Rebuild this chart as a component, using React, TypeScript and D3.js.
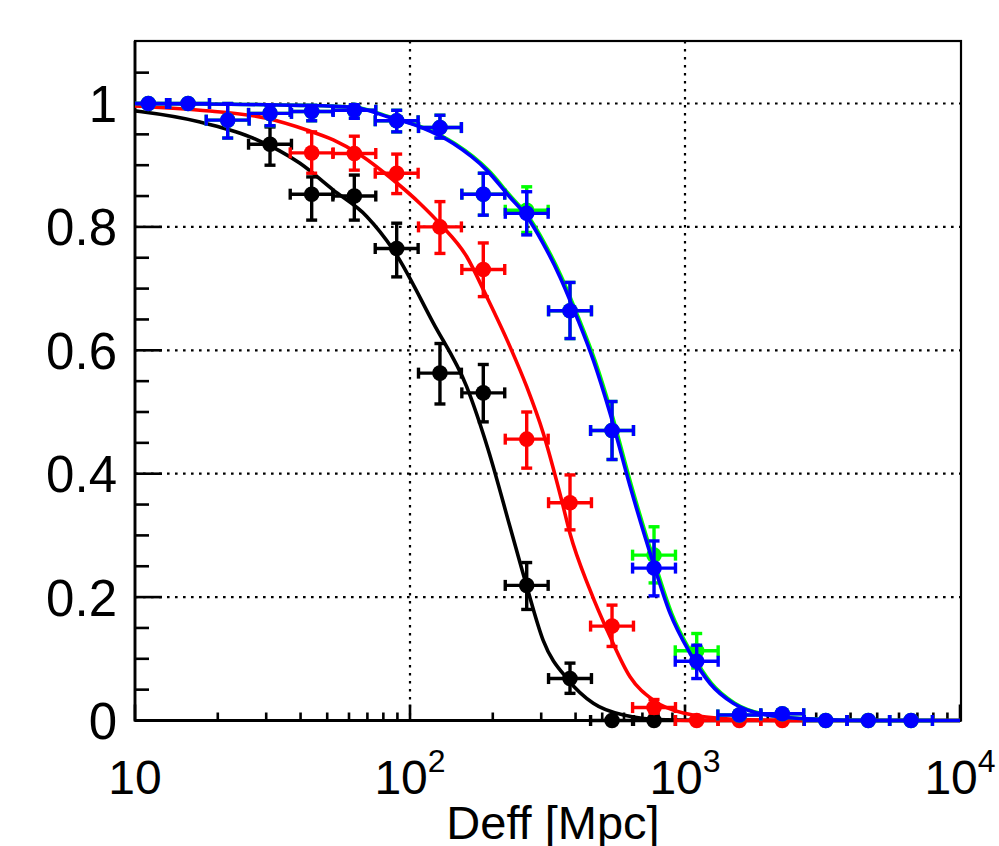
import React from "react";
import * as d3 from "d3";

// ---- data ----
const binCenters = [11.18, 15.59, 21.73, 30.97, 43.9, 62.74, 89.45, 128.5, 184.7, 265.7, 381.8, 542.8, 771.6, 1103, 1576, 2258, 3249, 4640, 6634];

const blackX = [30.97, 43.9, 62.74, 89.45, 128.5, 184.7, 265.7, 381.8, 542.8, 771.6];
const blackY = [0.934, 0.853, 0.85, 0.765, 0.563, 0.531, 0.219, 0.068, 0, 0];
const blackEHigh = [0.028, 0.028, 0.034, 0.041, 0.048, 0.046, 0.037, 0.025, 0, 0];
const blackELow = [0.034, 0.042, 0.039, 0.046, 0.05, 0.047, 0.039, 0.024, 0, 0];

const redX = [43.9, 62.74, 89.45, 128.5, 184.7, 265.7, 381.8, 542.8, 771.6, 1103, 1576, 2258];
const redY = [0.92, 0.919, 0.887, 0.8, 0.731, 0.456, 0.353, 0.153, 0.021, 0, 0, 0];
const redEHigh = [0.034, 0.028, 0.031, 0.041, 0.043, 0.044, 0.045, 0.034, 0.013, 0, 0, 0];
const redELow = [0.033, 0.027, 0.033, 0.043, 0.044, 0.047, 0.044, 0.033, 0.009, 0, 0, 0];

const greenY = [1.0, 1.0, 0.973, 0.984, 0.987, 0.989, 0.972, 0.961, 0.853, 0.827, 0.664, 0.47, 0.268, 0.113, 0.009, 0.011, 0, 0, 0];
const greenEHigh = [0, 0, 0.027, 0.013, 0.01, 0.009, 0.017, 0.02, 0.034, 0.038, 0.046, 0.047, 0.046, 0.028, 0.006, 0.006, 0, 0, 0];
const greenELow = [0, 0, 0.029, 0.02, 0.015, 0.013, 0.018, 0.017, 0.034, 0.036, 0.045, 0.047, 0.045, 0.028, 0.005, 0.005, 0, 0, 0];

const blueY = [1.0, 1.0, 0.973, 0.984, 0.987, 0.989, 0.972, 0.961, 0.853, 0.822, 0.664, 0.47, 0.247, 0.096, 0.009, 0.011, 0, 0, 0];
const blueEHigh = [0, 0, 0.027, 0.013, 0.01, 0.009, 0.017, 0.02, 0.034, 0.035, 0.046, 0.047, 0.044, 0.026, 0.006, 0.006, 0, 0, 0];
const blueELow = [0, 0, 0.029, 0.02, 0.015, 0.013, 0.018, 0.017, 0.034, 0.035, 0.045, 0.047, 0.045, 0.028, 0.005, 0.005, 0, 0, 0];

// fitted curves
const blackCurve: [number, number][] = [[10, 0.988], [10.43, 0.987], [17.24, 0.97], [26.19, 0.946], [39.81, 0.903], [52.5, 0.86], [69.6, 0.817], [86.9, 0.763], [121.6, 0.644], [160.7, 0.541], [192.7, 0.438], [231, 0.314], [264, 0.222], [305, 0.13], [376, 0.066], [464, 0.028], [597, 0.009], [858, 0.001], [1340, 0], [10000, 0]];
const redCurve: [number, number][] = [[10, 0.996], [17.24, 0.989], [30.1, 0.976], [42.1, 0.957], [52.6, 0.941], [65.8, 0.917], [86.9, 0.876], [108.7, 0.838], [128.5, 0.805], [160.7, 0.752], [190, 0.687], [231, 0.606], [265.7, 0.541], [305, 0.466], [356, 0.357], [381.8, 0.303], [451, 0.212], [533.8, 0.136], [631, 0.071], [766.7, 0.033], [985.8, 0.012], [1498, 0.002], [2618, 0], [10000, 0]];
const greenCurve: [number, number][] = [[10, 1.0], [40.3, 0.997], [63, 0.994], [83.4, 0.979], [110.1, 0.962], [145.6, 0.935], [192.5, 0.892], [234, 0.848], [269.2, 0.817], [309, 0.773], [355.6, 0.719], [409, 0.654], [470, 0.584], [540.8, 0.498], [639, 0.38], [776.7, 0.255], [893.5, 0.174], [1056.6, 0.109], [1249, 0.06], [1517, 0.028], [2008, 0.009], [3052, 0.002], [4767, 0], [10000, 0]];
const blueCurve: [number, number][] = [[10, 1.0], [39.8, 0.997], [62.2, 0.994], [82.3, 0.979], [108.7, 0.962], [143.7, 0.935], [190, 0.892], [231, 0.848], [265.7, 0.817], [305, 0.773], [351, 0.719], [404, 0.654], [464, 0.584], [533.8, 0.498], [631, 0.38], [766.7, 0.255], [882, 0.174], [1043, 0.109], [1233, 0.06], [1498, 0.028], [1982, 0.009], [3013, 0.002], [4706, 0], [10000, 0]];

const yMajorTicks = [0, 0.2, 0.4, 0.6, 0.8, 1.0];
const yTickLabels = ["0", "0.2", "0.4", "0.6", "0.8", "1"];
const yMinorTicks = [0.05, 0.1, 0.15, 0.25, 0.3, 0.35, 0.45, 0.5, 0.55, 0.65, 0.7, 0.75, 0.85, 0.9, 0.95, 1.05];
const xMajorTicks = [10, 100, 1000, 10000];
const xTickBase = ["10", "10", "10", "10"];
const xTickExp = ["", "2", "3", "4"];
const xGrid = [100, 1000];
const yGrid = [0.2, 0.4, 0.6, 0.8, 1.0];
const xTitle = "Deff [Mpc]";

// ---- layout ----
const W = 999, H = 846;
const L = 135, R = 960, T = 41, B = 720.5;
const binHalfDex = 0.078;
const FONT = "'Liberation Sans', Arial, Helvetica, sans-serif";

const x = d3.scaleLog().domain([10, 10000]).range([L, R]);
const y = d3.scaleLinear().domain([0, 1.1]).range([B, B - 1.1 * 617]);

const line = d3
  .line<[number, number]>()
  .x((d) => x(d[0]))
  .y((d) => y(d[1]))
  .curve(d3.curveMonotoneX);

function xMinorTicks(): number[] {
  const out: number[] = [];
  for (let dec = 10; dec < 10000; dec *= 10) {
    for (let k = 2; k <= 9; k++) out.push(dec * k);
  }
  return out;
}

type SeriesProps = {
  xs: number[];
  ys: number[];
  eh: number[];
  el: number[];
  color: string;
};

function Points({ xs, ys, eh, el, color }: SeriesProps) {
  const cap = 5.5;
  return (
    <g stroke={color} fill={color} strokeWidth={3.4}>
      {xs.map((xv, i) => {
        const cx = x(xv);
        const cy = y(ys[i]);
        const x0 = x(xv / Math.pow(10, binHalfDex));
        const x1 = x(xv * Math.pow(10, binHalfDex));
        const yTop = y(ys[i] + eh[i]);
        const yBot = y(ys[i] - el[i]);
        return (
          <g key={i}>
            <line x1={Math.max(x0, L)} x2={x1} y1={cy} y2={cy} />
            {x0 > L && <line x1={x0} x2={x0} y1={cy - cap} y2={cy + cap} />}
            <line x1={x1} x2={x1} y1={cy - cap} y2={cy + cap} />
            {eh[i] > 0 && <line x1={cx} x2={cx} y1={cy} y2={yTop} />}
            {eh[i] > 0 && <line x1={cx - cap} x2={cx + cap} y1={yTop} y2={yTop} />}
            {el[i] > 0 && <line x1={cx} x2={cx} y1={cy} y2={yBot} />}
            {el[i] > 0 && <line x1={cx - cap} x2={cx + cap} y1={yBot} y2={yBot} />}
            <circle cx={cx} cy={cy} r={7.8} stroke="none" />
          </g>
        );
      })}
    </g>
  );
}

export default function App() {
  const minors = xMinorTicks();
  return (
    <svg
      width={W}
      height={H}
      viewBox={`0 0 ${W} ${H}`}
      style={{ position: "absolute", left: 0, top: 0, background: "#fff" }}
      fontFamily={FONT}
    >
      <rect x={0} y={0} width={W} height={H} fill="#fff" />
      {/* grid */}
      <g stroke="#000" strokeWidth={2.2} strokeDasharray="2.6 5.4">
        {xGrid.map((g) => (
          <line key={"gx" + g} x1={x(g)} x2={x(g)} y1={T} y2={B} />
        ))}
        {yGrid.map((g) => (
          <line key={"gy" + g} x1={L} x2={R} y1={y(g)} y2={y(g)} />
        ))}
      </g>
      {/* frame */}
      <rect x={L} y={T} width={961 - L} height={B - T} fill="none" stroke="#000" strokeWidth={2.2} />
      <line x1={L} x2={L} y1={T} y2={B + 1} stroke="#000" strokeWidth={2.8} />
      <line x1={L} x2={961} y1={B} y2={B} stroke="#000" strokeWidth={2.8} />
      {/* ticks */}
      <g stroke="#000" strokeWidth={2.6}>
        {yMajorTicks.map((t) => (
          <line key={"ym" + t} x1={L} x2={L + 27} y1={y(t)} y2={y(t)} />
        ))}
        {yMinorTicks.map((t) => (
          <line key={"yn" + t} x1={L} x2={L + 14} y1={y(t)} y2={y(t)} />
        ))}
        {xMajorTicks.map((t) => (
          <line key={"xm" + t} x1={x(t)} x2={x(t)} y1={B} y2={B - 16} />
        ))}
        {minors.map((t) => (
          <line key={"xn" + t} x1={x(t)} x2={x(t)} y1={B} y2={B - 8} />
        ))}
      </g>
      {/* y labels */}
      <g fontSize={51} textAnchor="end" fill="#000">
        {yMajorTicks.map((t, i) => (
          <text key={"yl" + t} x={117} y={y(t) + 18.5}>
            {yTickLabels[i]}
          </text>
        ))}
      </g>
      {/* x labels */}
      <g fill="#000">
        {xMajorTicks.map((t, i) => (
          <text key={"xl" + t} x={x(t)} y={794} fontSize={48} textAnchor="middle">
            {xTickBase[i]}
            {xTickExp[i] && (
              <tspan fontSize={32} dy={-22}>
                {xTickExp[i]}
              </tspan>
            )}
          </text>
        ))}
        <text x={553} y={839} fontSize={47} textAnchor="middle">
          {xTitle}
        </text>
      </g>
      {/* series */}
      <path d={line(blackCurve) || ""} fill="none" stroke="#000" strokeWidth={3.6} />
      <Points xs={blackX} ys={blackY} eh={blackEHigh} el={blackELow} color="#000000" />
      <path d={line(redCurve) || ""} fill="none" stroke="#ff0000" strokeWidth={3.6} />
      <Points xs={redX} ys={redY} eh={redEHigh} el={redELow} color="#ff0000" />
      <path d={line(greenCurve) || ""} fill="none" stroke="#00ff00" strokeWidth={3.6} />
      <Points xs={binCenters} ys={greenY} eh={greenEHigh} el={greenELow} color="#00ff00" />
      <path d={line(blueCurve) || ""} fill="none" stroke="#0000ff" strokeWidth={3.6} />
      <Points xs={binCenters} ys={blueY} eh={blueEHigh} el={blueELow} color="#0000ff" />
    </svg>
  );
}
